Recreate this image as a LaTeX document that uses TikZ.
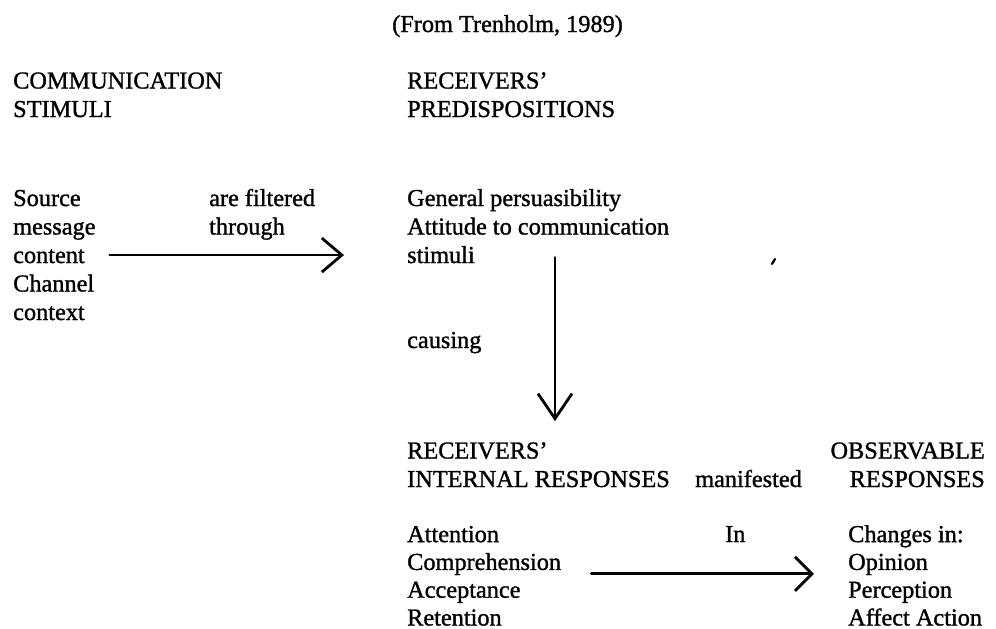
\documentclass[tikz,border=0pt]{standalone}
\usepackage{fontspec}
\setmainfont{Liberation Serif}
\usetikzlibrary{arrows.meta,calc}

\begin{document}
\begin{tikzpicture}[x=1pt,y=-1pt,
  % multi-line blocks are placed by the baseline of their last line
  txt/.style={inner sep=0pt, anchor=base west, align=left,
    font=\fontsize{24.3}{28.5}\selectfont\addfontfeatures{FakeBold=1.2}},
  tight/.style={font=\fontsize{24.3}{27.8}\selectfont\addfontfeatures{FakeBold=1.2}},
  link/.style={line width=2.8pt, line cap=round},
  barb/.style={-{Straight Barb[length=#1, width=34pt, line width=2.8pt]}},
  barb/.default=20pt]

  \useasboundingbox (0,0) rectangle (996,629);

  % source of the model
  \node[txt] (cite) at (392,32) {(From Trenholm, 1989)};

  % column headings
  \node[txt] (stim) at (13,117) {COMMUNICATION\\STIMULI};
  \node[txt] (pred) at (407,117) {RECEIVERS’\\PREDISPOSITIONS};

  % first stage
  \node[txt] (src) at (13,320) {Source\\message\\content\\Channel\\context};
  \node[txt] (filt) at (209,234.5) {are filtered\\through};
  \node[txt] (gen) at (407,263) {General persuasibility\\Attitude to communication\\stimuli};
  \node[txt] (caus) at (407,348) {causing};

  % second stage
  \node[txt] (intl) at (407,487) {RECEIVERS’\\INTERNAL RESPONSES};
  \node[txt] (mani) at (695,487) {manifested};
  \node[txt, anchor=base east, align=right] (obs) at (985,487) {OBSERVABLE\\RESPONSES};

  \node[txt, tight] (resp) at (407,625.5) {Attention\\Comprehension\\Acceptance\\Retention};
  \node[txt] (inw) at (725,542) {In};
  \node[txt, tight] (chg) at (848,625.5) {Changes in:\\Opinion\\Perception\\Affect Action};

  % connectors
  \draw[link, barb] ($(src.east)+(14,0)$) -- ($(src.east -| gen.west)+(-63,0)$);
  \draw[link, barb=25pt] ($(gen.south west)+(148,-6)$) -- ($(intl.north west)+(148,-21)$);
  \draw[link, barb=17pt] ($(resp.east)+(30,-2)$) -- ($(resp.east -| chg.west)+(-34,-2)$);

  % small stroke to the right of the predispositions
  \draw[line width=2.2pt, line cap=round] (772,264) -- (775,259);
\end{tikzpicture}
\end{document}
